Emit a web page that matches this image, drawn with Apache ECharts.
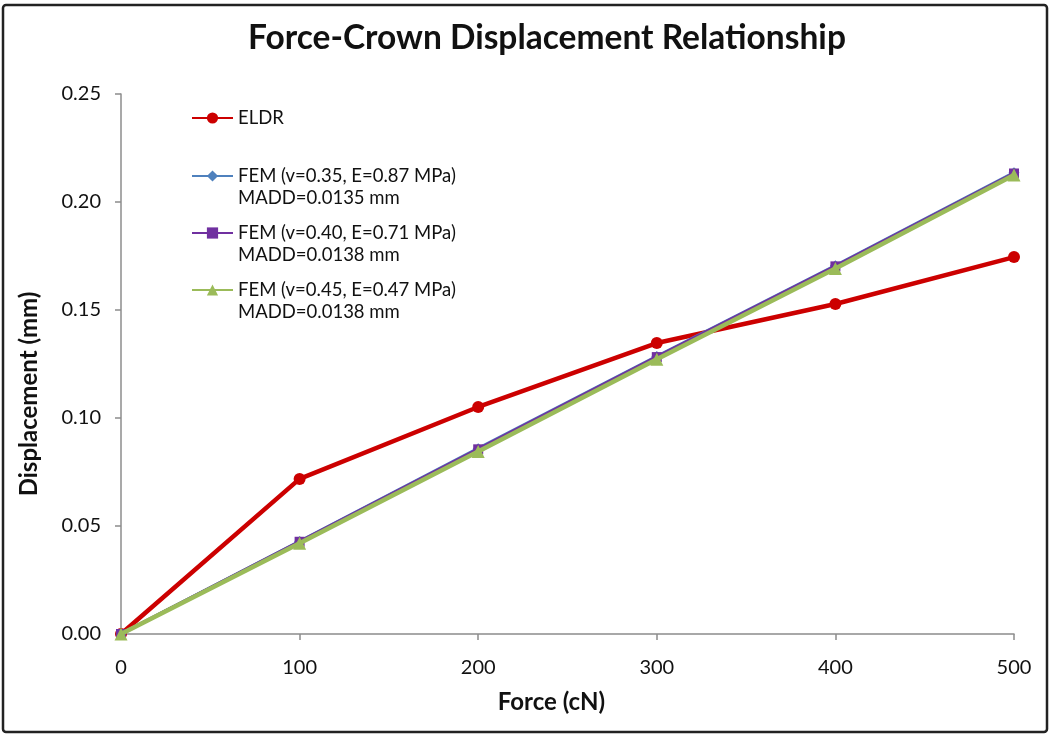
<!DOCTYPE html>
<html>
<head>
<meta charset="utf-8">
<script src="https://cdn.jsdelivr.net/npm/echarts@6/dist/echarts.min.js"></script>
<style>
html,body{margin:0;padding:0;background:#fff;}
#chart{width:1050px;height:734px;}
</style>
</head>
<body>
<div id="chart"></div>
<script>
// ---- data ----
const forces = [0, 100, 200, 300, 400, 500];
const eldr = [0.0, 0.0718, 0.1051, 0.1347, 0.1528, 0.1745];
const fem035 = [0.0, 0.0428, 0.0858, 0.1285, 0.1705, 0.2135];
const fem040 = [0.0, 0.0427, 0.0855, 0.1282, 0.1702, 0.2132];
const fem045 = [0.0, 0.0420, 0.0845, 0.1272, 0.1692, 0.2125];
const seriesNames = ['ELDR', 'FEM (v=0.35, E=0.87 MPa)', 'FEM (v=0.40, E=0.71 MPa)', 'FEM (v=0.45, E=0.47 MPa)'];
const maddLabels = ['', 'MADD=0.0135 mm', 'MADD=0.0138 mm', 'MADD=0.0138 mm'];
const titleText = 'Force-Crown Displacement Relationship';
const xTitle = 'Force (cN)';
const yTitle = 'Displacement (mm)';

const FONT = 'Lato';
const pair = arr => forces.map((f, i) => [f, arr[i]]);

const colors = ['#CC0000', '#4F81BD', '#7030A0', '#9BBB59'];
const symbols = ['circle', 'diamond', 'rect', 'triangle'];
const symbolSizes = [12, 11, 10, 13];
const lineWidths = [4.5, 3.5, 3.5, 4.5];
const datasets = [eldr, fem035, fem040, fem045];

const legendTops = [107, 143, 200, 257];
const legends = seriesNames.map((name, i) => ({
  data: [name],
  left: 191,
  top: legendTops[i],
  padding: 0,
  orient: 'vertical',
  itemWidth: 41,
  itemHeight: 14,
  selectedMode: false,
  textStyle: { fontFamily: FONT, fontSize: 18.5, color: '#111', lineHeight: 22 },
  formatter: n => i === 0 ? n : '\n' + n + '\n' + maddLabels[i]
}));

const chart = echarts.init(document.getElementById('chart'), null, { renderer: 'canvas' });
chart.setOption({
  backgroundColor: '#fff',
  animation: false,
  title: {
    text: titleText,
    left: 243,
    top: 16,
    textStyle: { fontFamily: FONT, fontSize: 33.5, fontWeight: 'bold', color: '#111' }
  },
  legend: legends,
  grid: { left: 121, right: 36, top: 94, bottom: 100, containLabel: false },
  xAxis: {
    type: 'value',
    min: 0, max: 500, interval: 100,
    name: xTitle,
    nameLocation: 'middle',
    nameGap: 56,
    nameTextStyle: { fontFamily: FONT, fontSize: 24, fontWeight: 'bold', color: '#111', padding: [0, 32, 0, 0] },
    axisLine: { lineStyle: { color: '#8c8c8c', width: 1.5 } },
    axisTick: { show: true, inside: false, length: 6, lineStyle: { color: '#8c8c8c', width: 1.5 } },
    axisLabel: { fontFamily: FONT, fontSize: 20, color: '#111', margin: 24 },
    splitLine: { show: false }
  },
  yAxis: {
    type: 'value',
    min: 0, max: 0.25, interval: 0.05,
    name: yTitle,
    nameLocation: 'middle',
    nameGap: 80,
    nameTextStyle: { fontFamily: FONT, fontSize: 24, fontWeight: 'bold', color: '#111', padding: [0, 60, 0, 0] },
    axisLine: { show: true, lineStyle: { color: '#8c8c8c', width: 1.5 } },
    axisTick: { show: true, inside: false, length: 6, lineStyle: { color: '#8c8c8c', width: 1.5 } },
    axisLabel: { fontFamily: FONT, fontSize: 20, color: '#111', margin: 20, formatter: v => v.toFixed(2) },
    splitLine: { show: false }
  },
  series: seriesNames.map((name, i) => ({
    name: name,
    type: 'line',
    data: pair(datasets[i]),
    symbol: symbols[i],
    symbolSize: symbolSizes[i],
    showSymbol: true,
    clip: false,
    z: 2 + i,
    lineStyle: { color: colors[i], width: lineWidths[i] },
    itemStyle: { color: colors[i] }
  })),
  graphic: [{
    type: 'rect',
    shape: { x: 3, y: 5, width: 1044, height: 727, r: 3 },
    style: { fill: 'none', stroke: '#222', lineWidth: 2.5 },
    silent: true
  }]
});
</script>
</body>
</html>
